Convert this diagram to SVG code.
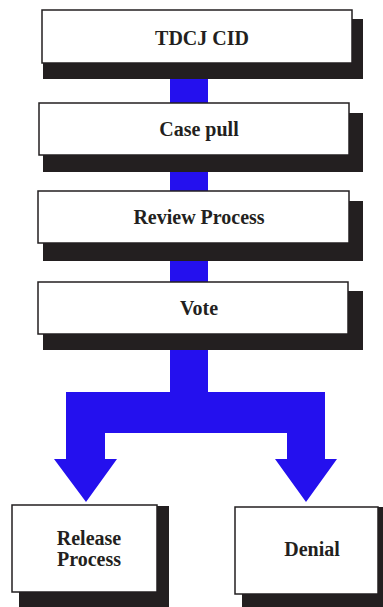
<svg xmlns="http://www.w3.org/2000/svg" width="383" height="607" viewBox="0 0 383 607">
<style>
.sh{fill:#231f20}
.bx{fill:#fff;stroke:#231f20;stroke-width:1.5}
.t{font-family:"Liberation Serif","Times New Roman",serif;font-weight:bold;font-size:20px;fill:#231f20;text-anchor:middle}
.c{fill:#2410ee}
</style>
<rect width="383" height="607" fill="#fff"/>
<g id="connectors">
<rect class="c" x="170" y="78" width="38" height="26"/>
<rect class="c" x="170" y="171" width="38" height="21"/>
<rect class="c" x="170" y="260" width="38" height="23"/>
<path class="c" d="M170,349 H208 V392 H325 V459 H337 L306,502 L275,459 H287 V433 H105 V459 H117 L86,502 L54,459 H66 V392 H170 Z"/>
</g>
<g id="tdcj">
<path class="sh" d="M352,19 H363 V79 H43 V63 H352 Z"/>
<rect class="bx" x="42" y="10" width="310" height="53"/>
<text class="t" x="202" y="45">TDCJ CID</text>
</g>
<g id="casepull">
<path class="sh" d="M349,113 H363 V172 H43 V155 H349 Z"/>
<rect class="bx" x="39" y="103" width="310" height="52"/>
<text class="t" x="199" y="136">Case pull</text>
</g>
<g id="review">
<path class="sh" d="M349,201 H363 V261 H43 V243 H349 Z"/>
<rect class="bx" x="38" y="191" width="311" height="52"/>
<text class="t" x="199" y="224">Review Process</text>
</g>
<g id="vote">
<path class="sh" d="M348,291 H363 V350 H43 V334 H348 Z"/>
<rect class="bx" x="38" y="282" width="310" height="52"/>
<text class="t" x="199" y="315">Vote</text>
</g>
<g id="release">
<path class="sh" d="M157,506 H169 V607 H19 V592 H157 Z"/>
<rect class="bx" x="12" y="505" width="145" height="87"/>
<text class="t" x="89" y="545">Release</text>
<text class="t" x="89" y="566">Process</text>
</g>
<g id="denial">
<path class="sh" d="M378,507 H383 V607 H242 V594 H378 Z"/>
<rect class="bx" x="235" y="507" width="143" height="87"/>
<text class="t" x="312" y="556">Denial</text>
</g>
</svg>
